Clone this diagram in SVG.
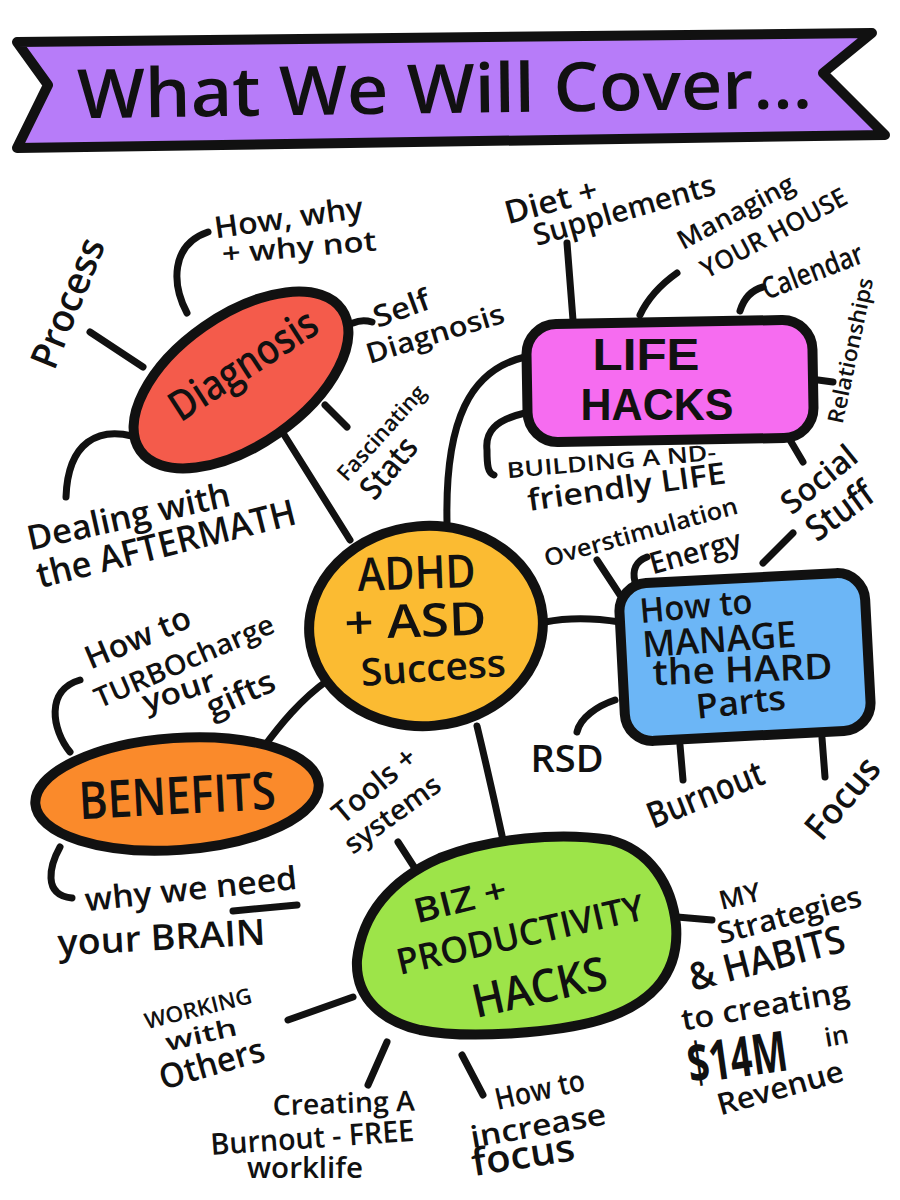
<svg xmlns="http://www.w3.org/2000/svg" width="900" height="1200" viewBox="0 0 900 1200">
<style>
.n{stroke:#111;stroke-width:10;stroke-linejoin:round}
.c{fill:none;stroke:#111;stroke-width:7;stroke-linecap:round;stroke-linejoin:round}
.t{font-family:"Open Sans","Liberation Sans",sans-serif;font-weight:600;fill:#111;text-anchor:middle}
.b{font-weight:700}
.l{font-family:"Liberation Sans","Open Sans",sans-serif;font-weight:700}
</style>
<rect width="900" height="1200" fill="#fff"/>

<g id="banner">
<path class="n" fill="#b77cf9" d="M17,42 L872,33 L823,73 L885,135 L17,148 L48,85 Z"/>
<text class="t" transform="translate(445,113) rotate(-0.8)" font-size="68" textLength="735" lengthAdjust="spacingAndGlyphs">What We Will Cover...</text>
</g>

<g id="connectors">
<path class="c" d="M283,433 L350,540"/>
<path class="c" d="M525,357 C470,370 445,420 447,522"/>
<path class="c" d="M545,622 C570,617 595,618 620,622"/>
<path class="c" d="M328,680 C300,700 280,725 263,748"/>
<path class="c" d="M477,726 Q490,780 503,840"/>
<path class="c" d="M187,313 C172,285 170,245 208,232"/>
<path class="c" d="M90,332 L143,367"/>
<path class="c" d="M353,323 C360,320 365,320 372,322"/>
<path class="c" d="M325,405 L347,427"/>
<path class="c" d="M132,436 C100,428 68,440 66,497"/>
<path class="c" d="M567,243 L573,320"/>
<path class="c" d="M640,315 C648,298 660,285 677,273"/>
<path class="c" d="M740,311 C744,298 752,290 763,287"/>
<path class="c" d="M818,380 L833,382"/>
<path class="c" d="M525,413 C495,420 485,432 487,450 C487,466 488,473 494,475"/>
<path class="c" d="M790,440 L803,462"/>
<path class="c" d="M597,560 L620,595"/>
<path class="c" d="M635,582 C632,570 636,561 647,557"/>
<path class="c" d="M763,563 L793,533"/>
<path class="c" d="M615,700 C597,706 580,718 577,732"/>
<path class="c" d="M680,745 L683,780"/>
<path class="c" d="M822,738 L825,777"/>
<path class="c" d="M70,752 C52,730 45,690 80,680"/>
<path class="c" d="M60,847 C50,865 42,895 72,898"/>
<path class="c" d="M233,911 L297,905"/>
<path class="c" d="M398,842 L418,873"/>
<path class="c" d="M677,917 L712,920"/>
<path class="c" d="M288,1020 L353,997"/>
<path class="c" d="M387,1042 L368,1085"/>
<path class="c" d="M462,1055 L483,1095"/>
</g>

<g id="node-diagnosis">
<ellipse class="n" fill="#f45b4b" cx="241" cy="380" rx="123" ry="65" transform="rotate(-35 241 380)"/>
<text class="t" transform="translate(251,377) rotate(-33)" font-size="42" textLength="168" lengthAdjust="spacingAndGlyphs">Diagnosis</text>
</g>
<g id="label-how-why">
<text class="t" transform="translate(290,228) rotate(-8)" font-size="30" textLength="150" lengthAdjust="spacingAndGlyphs">How, why</text>
<text class="t" transform="translate(300,257) rotate(-5)" font-size="28" textLength="155" lengthAdjust="spacingAndGlyphs">+ why not</text>
</g>
<g id="label-process">
<text class="t" transform="translate(80,308) rotate(-68)" font-size="38" textLength="137" lengthAdjust="spacingAndGlyphs">Process</text>
</g>
<g id="label-self-diagnosis">
<text class="t" transform="translate(405,318) rotate(-20)" font-size="30" textLength="58" lengthAdjust="spacingAndGlyphs">Self</text>
<text class="t" transform="translate(438,343) rotate(-17)" font-size="28" textLength="143" lengthAdjust="spacingAndGlyphs">Diagnosis</text>
</g>
<g id="label-stats">
<text class="t" transform="translate(387,438) rotate(-48)" font-size="22" textLength="120" lengthAdjust="spacingAndGlyphs">Fascinating</text>
<text class="t" transform="translate(397,475) rotate(-50)" font-size="32" textLength="70" lengthAdjust="spacingAndGlyphs">Stats</text>
</g>
<g id="label-aftermath">
<text class="t" transform="translate(131,528) rotate(-12.5)" font-size="34" textLength="207" lengthAdjust="spacingAndGlyphs">Dealing with</text>
<text class="t" transform="translate(169,556) rotate(-14)" font-size="36" textLength="266" lengthAdjust="spacingAndGlyphs">the AFTERMATH</text>
</g>

<g id="node-center">
<ellipse class="n" fill="#fbbb32" cx="426" cy="626" rx="117" ry="100" transform="rotate(-5 426 626)"/>
<text class="t" transform="translate(417,589) rotate(-2)" font-size="46" textLength="118" lengthAdjust="spacingAndGlyphs">ADHD</text>
<text class="t" transform="translate(416,637) rotate(-2)" font-size="46" textLength="142" lengthAdjust="spacingAndGlyphs">+ ASD</text>
<text class="t" transform="translate(434,681) rotate(-4)" font-size="38" textLength="145" lengthAdjust="spacingAndGlyphs">Success</text>
</g>

<g id="node-life-hacks">
<rect class="n" fill="#f66cf0" x="527" y="322" width="286" height="118" rx="30" transform="rotate(-1 670 381)"/>
<text class="t l" transform="translate(646,370)" font-size="44" textLength="107" lengthAdjust="spacingAndGlyphs">LIFE</text>
<text class="t l" transform="translate(657,420)" font-size="44" textLength="153" lengthAdjust="spacingAndGlyphs">HACKS</text>
</g>
<g id="label-diet">
<text class="t" transform="translate(554,212) rotate(-15)" font-size="32" textLength="95" lengthAdjust="spacingAndGlyphs">Diet +</text>
<text class="t" transform="translate(627,220) rotate(-16)" font-size="30" textLength="188" lengthAdjust="spacingAndGlyphs">Supplements</text>
</g>
<g id="label-house">
<text class="t" transform="translate(740,220) rotate(-28)" font-size="26" textLength="129" lengthAdjust="spacingAndGlyphs">Managing</text>
<text class="t" transform="translate(778,241) rotate(-28)" font-size="26" textLength="162" lengthAdjust="spacingAndGlyphs">YOUR HOUSE</text>
</g>
<g id="label-calendar">
<text class="t" transform="translate(816,281) rotate(-21)" font-size="30" textLength="106" lengthAdjust="spacingAndGlyphs">Calendar</text>
</g>
<g id="label-relationships">
<text class="t" transform="translate(858,352) rotate(-78)" font-size="22" textLength="148" lengthAdjust="spacingAndGlyphs">Relationships</text>
</g>
<g id="label-nd-life">
<text class="t" transform="translate(612,469) rotate(-5)" font-size="22" textLength="210" lengthAdjust="spacingAndGlyphs">BUILDING A ND-</text>
<text class="t" transform="translate(628,497) rotate(-8)" font-size="30" textLength="200" lengthAdjust="spacingAndGlyphs">friendly LIFE</text>
</g>
<g id="label-social">
<text class="t" transform="translate(826,488) rotate(-39)" font-size="32" textLength="88" lengthAdjust="spacingAndGlyphs">Social</text>
<text class="t" transform="translate(847,521) rotate(-36)" font-size="36" textLength="74" lengthAdjust="spacingAndGlyphs">Stuff</text>
</g>

<g id="node-hard-parts">
<rect class="n" fill="#6cb6f6" x="622" y="578" width="246" height="158" rx="28" transform="rotate(-3 745 657)"/>
<text class="t" transform="translate(697,618) rotate(-5)" font-size="34" textLength="113" lengthAdjust="spacingAndGlyphs">How to</text>
<text class="t" transform="translate(720,652) rotate(-4)" font-size="36" textLength="154" lengthAdjust="spacingAndGlyphs">MANAGE</text>
<text class="t" transform="translate(743,682) rotate(-2)" font-size="36" textLength="180" lengthAdjust="spacingAndGlyphs">the HARD</text>
<text class="t" transform="translate(742,714) rotate(-6)" font-size="34" textLength="90" lengthAdjust="spacingAndGlyphs">Parts</text>
</g>
<g id="label-overstimulation">
<text class="t" transform="translate(643,540) rotate(-15.6)" font-size="24" textLength="200" lengthAdjust="spacingAndGlyphs">Overstimulation</text>
</g>
<g id="label-energy">
<text class="t" transform="translate(698,562) rotate(-15.5)" font-size="30" textLength="94" lengthAdjust="spacingAndGlyphs">Energy</text>
</g>
<g id="label-rsd">
<text class="t" transform="translate(567,772)" font-size="38" textLength="73" lengthAdjust="spacingAndGlyphs">RSD</text>
</g>
<g id="label-burnout">
<text class="t" transform="translate(710,806) rotate(-22)" font-size="36" textLength="123" lengthAdjust="spacingAndGlyphs">Burnout</text>
</g>
<g id="label-focus">
<text class="t" transform="translate(852,806) rotate(-50)" font-size="36" textLength="95" lengthAdjust="spacingAndGlyphs">Focus</text>
</g>

<g id="node-benefits">
<ellipse class="n" fill="#fa8a2b" cx="177" cy="794" rx="142" ry="56" transform="rotate(-4 177 794)"/>
<text class="t" transform="translate(178,814) rotate(-3)" font-size="52" textLength="197" lengthAdjust="spacingAndGlyphs">BENEFITS</text>
</g>
<g id="label-turbocharge">
<text class="t" transform="translate(142,648) rotate(-23)" font-size="32" textLength="112" lengthAdjust="spacingAndGlyphs">How to</text>
<text class="t" transform="translate(188,670) rotate(-23.5)" font-size="28" textLength="193" lengthAdjust="spacingAndGlyphs">TURBOcharge</text>
<text class="t" transform="translate(182,701) rotate(-18)" font-size="30" textLength="75" lengthAdjust="spacingAndGlyphs">your</text>
<text class="t" transform="translate(245,704) rotate(-24)" font-size="32" textLength="72" lengthAdjust="spacingAndGlyphs">gifts</text>
</g>
<g id="label-brain">
<text class="t" transform="translate(192,900) rotate(-6)" font-size="32" textLength="213" lengthAdjust="spacingAndGlyphs">why we need</text>
<text class="t" transform="translate(162,950) rotate(-3)" font-size="36" textLength="208" lengthAdjust="spacingAndGlyphs">your BRAIN</text>
</g>

<g id="node-biz">
<path class="n" fill="#9de449" d="M357,960 C362,915 390,880 440,858 C490,838 560,832 610,840 C650,850 672,885 676,925 C680,975 650,1005 600,1020 C560,1032 470,1040 420,1030 C385,1022 355,1000 357,960 Z"/>
<text class="t" transform="translate(463,912) rotate(-14)" font-size="34" textLength="95" lengthAdjust="spacingAndGlyphs">BIZ +</text>
<text class="t" transform="translate(523,947) rotate(-12.8)" font-size="36" textLength="253" lengthAdjust="spacingAndGlyphs">PRODUCTIVITY</text>
<text class="t" transform="translate(543,1003) rotate(-12.7)" font-size="46" textLength="137" lengthAdjust="spacingAndGlyphs">HACKS</text>
</g>
<g id="label-tools">
<text class="t" transform="translate(381,793) rotate(-40)" font-size="30" textLength="100" lengthAdjust="spacingAndGlyphs">Tools +</text>
<text class="t" transform="translate(398,822) rotate(-36)" font-size="28" textLength="112" lengthAdjust="spacingAndGlyphs">systems</text>
</g>
<g id="label-strategies">
<text class="t" transform="translate(742,905) rotate(-14)" font-size="26" textLength="42" lengthAdjust="spacingAndGlyphs">MY</text>
<text class="t" transform="translate(792,925) rotate(-15)" font-size="30" textLength="148" lengthAdjust="spacingAndGlyphs">Strategies</text>
<text class="t" transform="translate(770,971) rotate(-14.6)" font-size="38" textLength="160" lengthAdjust="spacingAndGlyphs">&amp; HABITS</text>
<text class="t" transform="translate(767,1016) rotate(-10)" font-size="30" textLength="170" lengthAdjust="spacingAndGlyphs">to creating</text>
<text class="t b" transform="translate(740,1077) rotate(-8)" font-size="56" textLength="100" lengthAdjust="spacingAndGlyphs">$14M</text>
<text class="t" transform="translate(838,1045) rotate(-10)" font-size="26" textLength="24" lengthAdjust="spacingAndGlyphs">in</text>
<text class="t" transform="translate(783,1098) rotate(-15.6)" font-size="30" textLength="130" lengthAdjust="spacingAndGlyphs">Revenue</text>
</g>
<g id="label-working">
<text class="t" transform="translate(200,1016) rotate(-14)" font-size="22" textLength="110" lengthAdjust="spacingAndGlyphs">WORKING</text>
<text class="t" transform="translate(203,1043) rotate(-13)" font-size="24" textLength="73" lengthAdjust="spacingAndGlyphs">with</text>
<text class="t" transform="translate(215,1075) rotate(-16)" font-size="34" textLength="108" lengthAdjust="spacingAndGlyphs">Others</text>
</g>
<g id="label-burnout-free">
<text class="t" transform="translate(344,1113) rotate(-2)" font-size="28" textLength="142" lengthAdjust="spacingAndGlyphs">Creating A</text>
<text class="t" transform="translate(313,1148) rotate(-4)" font-size="30" textLength="204" lengthAdjust="spacingAndGlyphs">Burnout - FREE</text>
<text class="t" transform="translate(305,1178)" font-size="28" textLength="116" lengthAdjust="spacingAndGlyphs">worklife</text>
</g>
<g id="label-increase-focus">
<text class="t" transform="translate(542,1100) rotate(-12.7)" font-size="30" textLength="91" lengthAdjust="spacingAndGlyphs">How to</text>
<text class="t" transform="translate(540,1136) rotate(-10)" font-size="30" textLength="137" lengthAdjust="spacingAndGlyphs">increase</text>
<text class="t" transform="translate(525,1168) rotate(-9)" font-size="38" textLength="104" lengthAdjust="spacingAndGlyphs">focus</text>
</g>
</svg>
